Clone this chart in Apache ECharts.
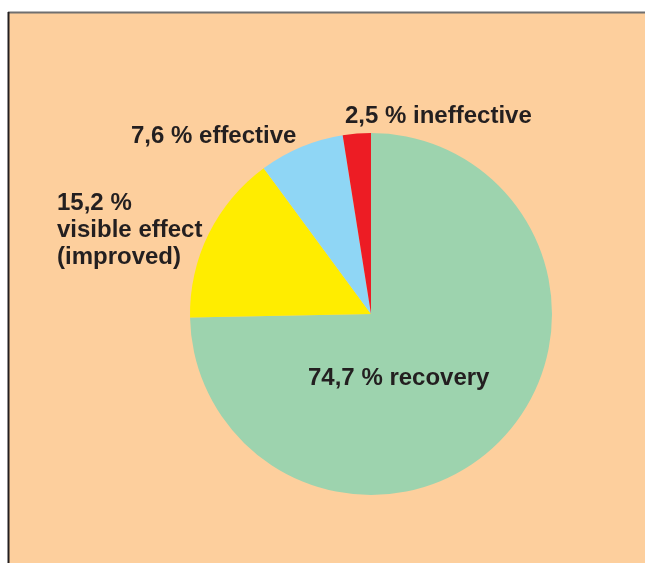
<!DOCTYPE html>
<html><head><meta charset="utf-8">
<script src="https://cdn.jsdelivr.net/npm/echarts@6/dist/echarts.min.js"></script>
<style>html,body{margin:0;padding:0;background:#fff}#c{width:645px;height:563px}</style>
</head><body><div id="c"></div>
<script>
const categories = ['recovery', 'visible effect (improved)', 'effective', 'ineffective'];
const values = [74.7, 15.2, 7.6, 2.5];
const labelTexts = ['74,7 % recovery', '15,2 %\nvisible effect\n(improved)', '7,6 % effective', '2,5 % ineffective'];
const colors = ['#9DD3AE', '#FFED00', '#8FD6F5', '#ED1C24'];

const chart = echarts.init(document.getElementById('c'), null, {renderer: 'canvas'});
const textStyle = {fill: '#231F20', font: 'bold 24px "Liberation Sans", Arial, sans-serif'};
const labelPos = [[308, 365], [57, 190], [131, 123], [345, 103]];
chart.setOption({
  backgroundColor: '#ffffff',
  animation: false,
  graphic: [
    {type: 'rect', shape: {x: 9, y: 13, width: 636, height: 550}, style: {fill: '#FDCF9D'}, z: -10},
    {type: 'line', shape: {x1: 8, y1: 12.5, x2: 645, y2: 12.5}, style: {stroke: '#6f6f6f', lineWidth: 2}, z: -9},
    {type: 'line', shape: {x1: 8.5, y1: 12, x2: 8.5, y2: 563}, style: {stroke: '#231F20', lineWidth: 2}, z: -9}
  ].concat(labelTexts.map((t, i) => ({
    type: 'text', left: labelPos[i][0], top: labelPos[i][1], z: 10,
    style: Object.assign({text: t, lineHeight: 27}, textStyle)
  }))),
  series: [{
    type: 'pie',
    center: [371, 314],
    radius: [0, 181],
    startAngle: 90,
    clockwise: true,
    label: {show: false},
    labelLine: {show: false},
    itemStyle: {borderWidth: 0},
    emphasis: {disabled: true},
    data: categories.map((c, i) => ({name: c, value: values[i], itemStyle: {color: colors[i]}}))
  }]
});
</script></body></html>
